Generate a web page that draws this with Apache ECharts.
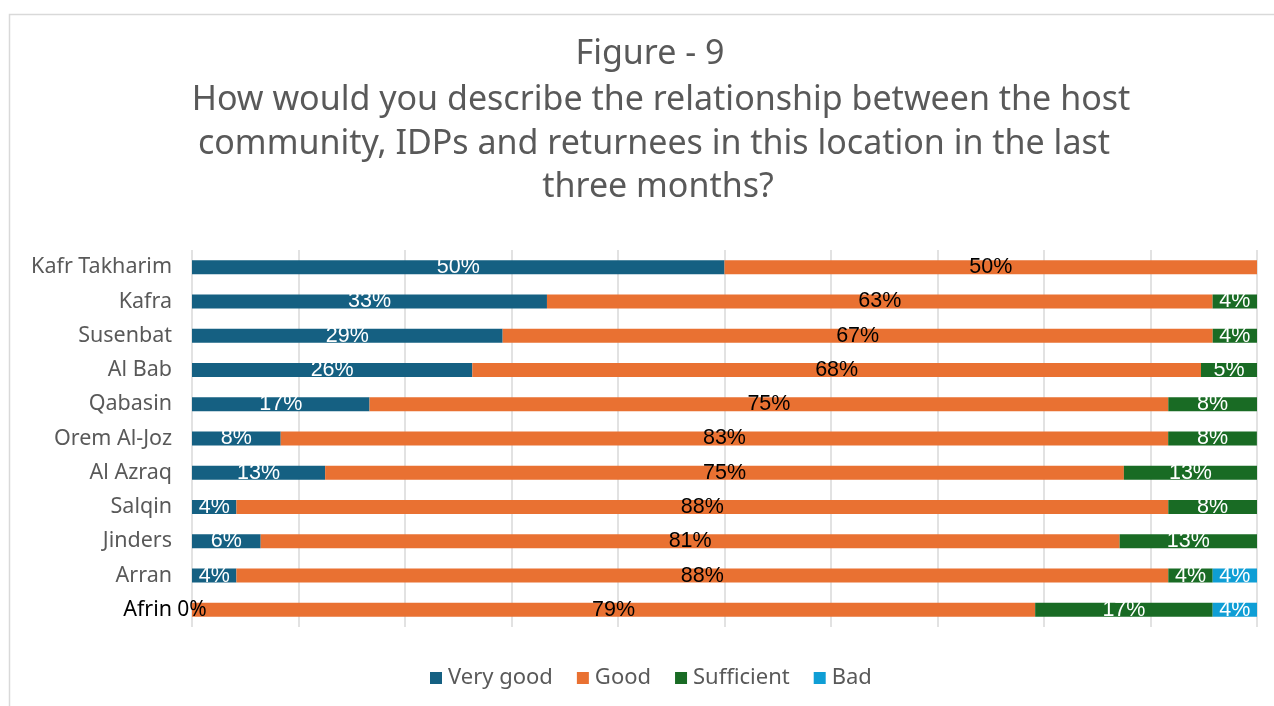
<!DOCTYPE html>
<html>
<head>
<meta charset="utf-8">
<script src="https://cdn.jsdelivr.net/npm/echarts@6/dist/echarts.min.js"></script>
<style>
  html, body { margin: 0; padding: 0; background: #fff; }
  #chart { width: 1274px; height: 706px; }
</style>
</head>
<body>
<div id="chart"></div>
<script>
// Locations, top to bottom
const categories = ['Kafr Takharim', 'Kafra', 'Susenbat', 'Al Bab', 'Qabasin', 'Orem Al-Joz',
  'Al Azraq', 'Salqin', 'Jinders', 'Arran', 'Afrin'];

// Share of answers per location (%)
const veryGood   = [50, 33.33, 29.17, 26.32, 16.67, 8.33, 12.5, 4.17, 6.45, 4.17, 0];
const good       = [50, 62.5, 66.67, 68.42, 75, 83.33, 75, 87.5, 80.65, 87.5, 79.17];
const sufficient = [null, 4.17, 4.17, 5.26, 8.33, 8.33, 12.5, 8.33, 12.9, 4.17, 16.67];
const bad        = [null, null, null, null, null, null, null, null, null, 4.16, 4.16];

const seriesNames = ['Very good', 'Good', 'Sufficient', 'Bad'];
const seriesColors = ['#156082', '#e97132', '#196b24', '#0f9ed5'];
const labelColors = ['#ffffff', '#000000', '#ffffff', '#ffffff'];

const titleLines = [
  'Figure - 9',
  'How would you describe the relationship between the host',
  'community, IDPs and returnees in this location in the last',
  'three months?'
];

const chart = echarts.init(document.getElementById('chart'));

const seriesData = [veryGood, good, sufficient, bad];

const series = seriesData.map((vals, si) => ({
  name: seriesNames[si],
  type: 'bar',
  stack: 'total',
  barWidth: 14,
  itemStyle: { color: seriesColors[si] },
  label: {
    show: true,
    position: 'inside',
    color: labelColors[si],
    fontFamily: 'Liberation Sans',
    fontSize: 21.5,
    formatter: p => (p.value == null ? '' : Math.round(p.value) + '%')
  },
  data: vals.map(v => (v === 0
    ? { value: 0, label: { color: '#000000', fontFamily: 'Noto Sans', fontSize: 21 } }
    : v))
}));

// Title lines, each centred on its own x
const titleX = [650, 661, 654, 658];
const titleY = [54, 100, 144, 187];
const graphic = [
  {
    type: 'rect',
    shape: { x: 9.5, y: 14.5, width: 1300, height: 800 },
    style: { fill: 'none', stroke: '#d9d9d9', lineWidth: 1.5 },
    silent: true
  }
].concat(titleLines.map((t, i) => ({
  type: 'text',
  x: titleX[i],
  y: titleY[i],
  style: {
    text: t,
    textAlign: 'center',
    textVerticalAlign: 'middle',
    fontFamily: 'Noto Sans',
    fontSize: 34,
    fill: '#595959'
  }
})));

chart.setOption({
  animation: false,
  graphic: graphic,
  legend: {
    data: seriesNames,
    left: 425,
    top: 662,
    icon: 'rect',
    itemWidth: 12,
    itemHeight: 12,
    itemGap: 24,
    textStyle: { fontFamily: 'Noto Sans', fontSize: 22, color: '#595959', padding: [0, 0, 0, 1] }
  },
  grid: { left: 192, right: 17, top: 250, bottom: 79, containLabel: false },
  xAxis: {
    type: 'value',
    min: 0,
    max: 100,
    interval: 10,
    axisLabel: { show: false },
    axisLine: { show: false },
    axisTick: { show: false },
    splitLine: { show: true, lineStyle: { color: '#d9d9d9', width: 1.5 } }
  },
  yAxis: {
    type: 'category',
    inverse: true,
    data: categories,
    axisLine: { show: false },
    axisTick: { show: false },
    axisLabel: {
      margin: 20,
      fontFamily: 'Noto Sans',
      fontSize: 21.5,
      color: (v, i) => (v === 'Afrin' ? '#000000' : '#595959')
    }
  },
  series: series
});
</script>
</body>
</html>
